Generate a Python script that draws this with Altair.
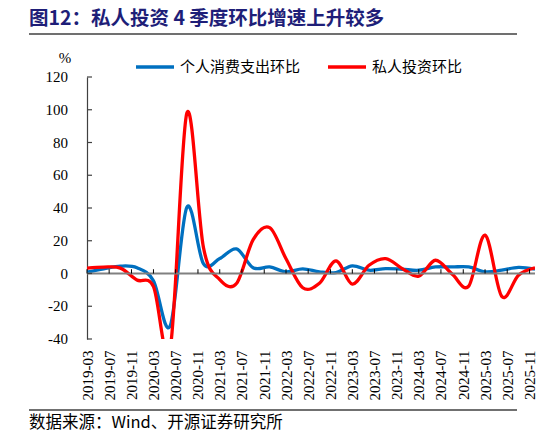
import altair as alt
import pandas as pd

# quarterly data, plotted on the first day of the quarter's last month
quarters = [
    "2019-03-01", "2019-06-01", "2019-09-01", "2019-12-01",
    "2020-03-01", "2020-06-01", "2020-09-01", "2020-12-01",
    "2021-03-01", "2021-06-01", "2021-09-01", "2021-12-01",
    "2022-03-01", "2022-06-01", "2022-09-01", "2022-12-01",
    "2023-03-01", "2023-06-01", "2023-09-01", "2023-12-01",
    "2024-03-01", "2024-06-01", "2024-09-01", "2024-12-01",
    "2025-03-01", "2025-06-01", "2025-09-01", "2025-12-01",
]
pce_qoq = [0.8, 2.8, 4.5, 3.5, -4.5, -32.0, 40.5, 6.0,
           9.1, 15.0, 3.5, 4.0, 1.0, 2.8, 1.0, 0.6,
           4.7, 2.0, 3.0, 2.6, 2.0, 4.0, 4.0, 4.0,
           1.0, 2.0, 3.7, 2.6]
invest_qoq = [3.3, 3.9, 3.3, -4.0, -8.0, -46.0, 98.0, 16.0,
              -3.7, -6.1, 20.7, 28.0, 9.0, -8.7, -6.0, 7.7,
              -6.5, 5.0, 9.1, 3.0, -1.6, 8.1, -0.4, -7.7,
              23.4, -14.0, -1.0, 3.5]

series_names = ["个人消费支出环比", "私人投资环比"]
series_colors = ["#0070C0", "#FF0000"]

tick_months = [
    "2019-03", "2019-07", "2019-11", "2020-03", "2020-07", "2020-11",
    "2021-03", "2021-07", "2021-11", "2022-03", "2022-07", "2022-11",
    "2023-03", "2023-07", "2023-11", "2024-03", "2024-07", "2024-11",
    "2025-03", "2025-07", "2025-11",
]
y_ticks = [-40, -20, 0, 20, 40, 60, 80, 100, 120]

title_text = "图12：私人投资 4 季度环比增速上升较多"
source_text = "数据来源：Wind、开源证券研究所"
unit_text = "%"

CJK = "Noto Sans CJK SC"
SERIF = "Liberation Serif"

df = pd.DataFrame({
    "date": quarters * 2,
    "value": pce_qoq + invest_qoq,
    "series": [series_names[0]] * len(quarters) + [series_names[1]] * len(quarters),
})
ticks_df = pd.DataFrame({"date": [m + "-01" for m in tick_months]})
ytick_df = pd.DataFrame({"value": y_ticks, "label": [str(v) for v in y_ticks]})
one = pd.DataFrame({"t": [0]})


def utc_month(s):
    y, m = s.split("-")[:2]
    return alt.DateTime(year=int(y), month=int(m), date=1, utc=True)


x_scale = alt.Scale(type="utc", domain=[utc_month(quarters[0]), utc_month(quarters[-1])])
y_scale = alt.Scale(domain=[-40, 120], nice=False, zero=False)

x_axis = alt.Axis(
    values=[utc_month(m) for m in tick_months],
    labelExpr="utcFormat(datum.value, '%Y-%m')",
    labelAngle=270, labelFont=SERIF, labelFontSize=15, labelColor="black",
    labelPadding=11, labelOverlap=False, labelFlush=False,
    ticks=False, domain=False, grid=False, title=None,
)
y_axis = alt.Axis(
    values=y_ticks, labels=False, ticks=False, domain=True,
    domainColor="#404040", domainWidth=1.2, grid=False, title=None,
)

legend = alt.Legend(
    orient="none", legendX=47, legendY=-31, direction="horizontal", title=None,
    symbolType="stroke", symbolSize=1444, symbolStrokeWidth=3.5,
    labelFont=CJK, labelFontSize=15, labelColor="black", labelOffset=4,
    columnPadding=20,
)

x_enc = alt.X("date:T", scale=x_scale, axis=x_axis)
y_enc = alt.Y("value:Q", scale=y_scale, axis=y_axis)

base = alt.Chart(df).mark_line(
    interpolate="cardinal", tension=0, strokeWidth=3.3, clip=True
).encode(
    x=x_enc,
    y=y_enc,
    color=alt.Color("series:N", scale=alt.Scale(domain=series_names, range=series_colors),
                    legend=legend),
)
pce_line = base.transform_filter(alt.datum.series == series_names[0])
invest_line = base.transform_filter(alt.datum.series == series_names[1])

zero_line = alt.Chart(one).mark_rule(color="#808080", strokeWidth=2).encode(
    y=alt.datum(0)
)
zero_ticks = alt.Chart(ticks_df).mark_rule(color="black", strokeWidth=1).encode(
    x=x_enc,
    y=alt.datum(0),
    y2=alt.datum(2.6),
)
y_tick_marks = alt.Chart(ytick_df).mark_rule(color="#404040", strokeWidth=1.2).encode(
    y=y_enc,
    x=alt.value(0),
    x2=alt.value(5),
)
y_labels = alt.Chart(ytick_df).mark_text(
    align="right", baseline="middle", font=SERIF, fontSize=15, color="black"
).encode(
    y=y_enc,
    x=alt.value(-19),
    text="label:N",
)

title = alt.Chart(pd.DataFrame({"t": [title_text]})).mark_text(
    align="left", baseline="middle", font=CJK, fontSize=19.5, fontWeight="bold",
    color="#1E1E78"
).encode(text="t:N", x=alt.value(-58), y=alt.value(-58))
title_rule = alt.Chart(one).mark_rule(color="#404040", strokeWidth=1.5).encode(
    x=alt.value(-58), x2=alt.value(430), y=alt.value(-43)
)
unit = alt.Chart(pd.DataFrame({"t": [unit_text]})).mark_text(
    align="center", baseline="middle", font=SERIF, fontSize=15, color="black"
).encode(text="t:N", x=alt.value(-22), y=alt.value(-19))
bottom_rule = alt.Chart(one).mark_rule(color="#404040", strokeWidth=1.5).encode(
    x=alt.value(-58), x2=alt.value(430), y=alt.value(333)
)
source = alt.Chart(pd.DataFrame({"t": [source_text]})).mark_text(
    align="left", baseline="middle", font=CJK, fontSize=16.5, color="black"
).encode(text="t:N", x=alt.value(-58), y=alt.value(346))

chart = alt.layer(
    pce_line, invest_line, zero_line, zero_ticks, y_tick_marks, y_labels,
    title, title_rule, unit, bottom_rule, source,
).properties(
    width=448,
    height=262,
    padding={"left": 79, "top": 69, "right": 3, "bottom": 93},
    autosize=alt.AutoSizeParams(type="none"),
    background="white",
).configure_view(stroke=None)

chart.save("out.html", embed_options={"renderer": "svg", "actions": False})
